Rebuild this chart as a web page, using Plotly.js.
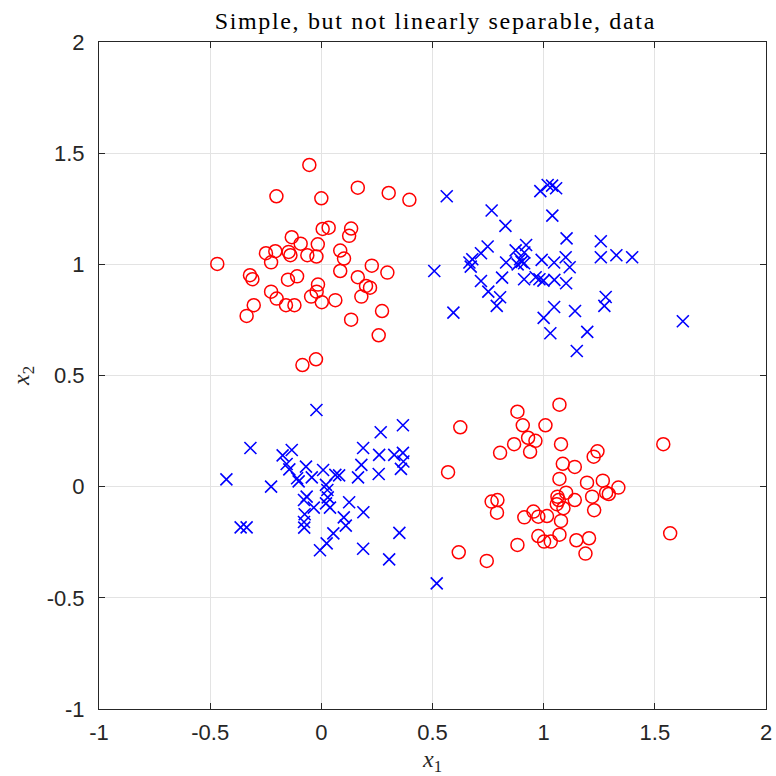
<!DOCTYPE html>
<html>
<head>
<meta charset="utf-8">
<script src="https://cdn.plot.ly/plotly-3.0.1.min.js"></script>
<style>
html,body{margin:0;padding:0;background:#fff;}
#chart{width:776px;height:776px;}
#chart .gtitle{letter-spacing:1.65px;}
</style>
</head>
<body>
<div id="chart"></div>
<script>
// Class A (red circles): upper-left cluster then lower-right cluster
const redX = [
 -0.054,-0.202,0.000,0.164,0.303,0.396,0.006,0.033,0.134,0.125,
 -0.133,-0.093,-0.016,-0.249,-0.207,-0.147,-0.139,-0.063,-0.022,-0.226,
 -0.468,0.085,0.102,0.085,0.227,0.297,0.164,-0.321,-0.310,-0.150,
 -0.109,0.201,0.219,-0.015,-0.021,-0.046,-0.226,-0.201,-0.159,-0.121,
 0.002,0.063,0.180,-0.304,-0.336,0.134,0.273,0.258,-0.085,-0.024,
 1.071,0.882,0.625,0.906,1.008,0.930,0.963,0.867,0.939,0.804,
 1.078,1.538,1.242,1.225,1.086,1.140,0.570,1.071,1.195,1.266,
 1.336,1.281,1.293,1.218,1.101,1.062,1.068,1.140,1.059,1.089,
 0.766,0.792,0.790,1.227,0.954,0.913,0.976,1.015,1.078,1.071,
 0.976,1.002,1.032,1.147,1.204,1.188,0.882,0.618,0.744,1.569
];
const redY = [
 1.447,1.306,1.297,1.345,1.321,1.290,1.159,1.165,1.161,1.128,
 1.122,1.093,1.090,1.050,1.059,1.056,1.041,1.041,1.035,1.009,
 1.002,1.062,1.026,0.970,0.994,0.963,0.942,0.951,0.933,0.931,
 0.946,0.903,0.895,0.909,0.877,0.855,0.877,0.846,0.816,0.816,
 0.830,0.839,0.855,0.816,0.768,0.751,0.790,0.681,0.547,0.573,
 0.369,0.337,0.267,0.276,0.276,0.220,0.206,0.191,0.157,0.152,
 0.191,0.191,0.159,0.135,0.103,0.089,0.065,0.035,0.018,0.027,
 -0.004,-0.027,-0.033,-0.045,-0.027,-0.045,-0.060,-0.060,-0.079,-0.097,
 -0.067,-0.060,-0.117,-0.106,-0.112,-0.138,-0.135,-0.132,-0.154,-0.216,
 -0.222,-0.247,-0.247,-0.241,-0.232,-0.301,-0.262,-0.295,-0.334,-0.210
];
// Class B (blue crosses): upper-right cluster then lower-left cluster
const blueX = [
 0.564,0.985,1.018,1.038,1.056,1.039,0.766,0.828,1.103,1.257,
 0.748,0.718,0.921,0.874,0.913,0.679,0.666,0.672,0.831,0.894,
 0.901,0.912,0.883,0.991,1.047,1.099,1.117,1.257,1.327,1.398,
 0.508,0.718,0.813,0.912,0.964,0.981,0.999,1.048,1.101,0.751,
 0.804,0.789,1.279,1.273,0.594,1.047,1.141,1.000,1.030,1.196,
 1.149,1.626,
 -0.022,0.267,0.367,-0.319,-0.174,-0.133,0.188,0.260,0.328,0.367,
 0.369,0.358,0.180,-0.156,-0.144,-0.069,0.008,0.063,0.080,-0.043,
 -0.109,-0.102,0.165,0.258,-0.427,-0.226,0.021,0.027,-0.066,-0.078,
 0.029,0.021,0.039,0.125,-0.034,0.189,-0.075,0.101,0.110,-0.078,
 -0.077,-0.363,-0.336,0.054,0.351,0.024,-0.006,0.188,0.305,0.519
];
const blueY = [
 1.306,1.329,1.357,1.354,1.342,1.219,1.242,1.173,1.117,1.104,
 1.080,1.050,1.087,1.063,1.053,1.023,1.008,0.990,1.008,1.023,
 1.011,1.005,1.000,1.020,1.008,1.032,0.987,1.032,1.041,1.032,
 0.970,0.925,0.940,0.933,0.942,0.933,0.927,0.930,0.915,0.877,
 0.852,0.813,0.853,0.813,0.783,0.808,0.790,0.759,0.690,0.696,
 0.610,0.744,
 0.345,0.245,0.276,0.174,0.141,0.165,0.174,0.143,0.143,0.152,
 0.113,0.080,0.098,0.102,0.078,0.090,0.075,0.053,0.051,0.042,
 0.038,0.024,0.042,0.057,0.033,0.000,0.008,-0.015,-0.045,-0.060,
 -0.048,-0.075,-0.094,-0.070,-0.094,-0.115,-0.124,-0.138,-0.175,-0.159,
 -0.184,-0.183,-0.183,-0.210,-0.208,-0.255,-0.286,-0.279,-0.327,-0.435
];
const xTickVals = [-1,-0.5,0,0.5,1,1.5,2];
const xTickText = ["-1","-0.5","0","0.5","1","1.5","2"];
const yTickVals = [-1,-0.5,0,0.5,1,1.5,2];
const yTickText = ["-1","-0.5","0","0.5","1","1.5","2"];
const titleText = "Simple, but not linearly separable, data";
const xTitle = "<i>x</i><sub>1</sub>";
const yTitle = "<i>x</i><sub>2</sub>";

const traces = [
 {x: redX, y: redY, type:'scatter', mode:'markers', showlegend:false, hoverinfo:'skip',
  marker:{symbol:'circle-open', size:13, color:'#ff0000', line:{color:'#ff0000', width:1.5}}},
 {x: blueX, y: blueY, type:'scatter', mode:'markers', showlegend:false, hoverinfo:'skip',
  marker:{symbol:'x-thin-open', size:12, color:'#0000ff', line:{color:'#0000ff', width:1.6}}}
];
const axisCommon = {
  showgrid:true, gridcolor:'#e3e3e3', gridwidth:1, zeroline:false,
  showline:true, linecolor:'#262626', linewidth:1, mirror:'ticks',
  ticks:'inside', ticklen:6, tickwidth:1, tickcolor:'#262626',
  tickfont:{family:'Liberation Sans, Arial, sans-serif', size:22, color:'#262626'}
};
const layout = {
  width:776, height:776,
  margin:{l:99, r:10, t:42, b:67},
  paper_bgcolor:'#ffffff', plot_bgcolor:'#ffffff',
  title:{text:titleText, font:{family:'Liberation Serif, serif', size:24, color:'#000'},
         x:0.561, xanchor:'center', y:0.973, yanchor:'middle'},
  xaxis:Object.assign({}, axisCommon, {range:[-1,2], tickmode:'array', tickvals:xTickVals, ticktext:xTickText,
         ticklabelstandoff:4,
         title:{text:xTitle, font:{family:'Liberation Serif, serif', size:24, color:'#262626'}, standoff:9}}),
  yaxis:Object.assign({}, axisCommon, {range:[-1,2], tickmode:'array', tickvals:yTickVals, ticktext:yTickText,
         ticklabelstandoff:9,
         title:{text:yTitle, font:{family:'Liberation Serif, serif', size:24, color:'#262626'}, standoff:10}})
};
Plotly.newPlot('chart', traces, layout, {displayModeBar:false, staticPlot:true});
</script>
</body>
</html>
